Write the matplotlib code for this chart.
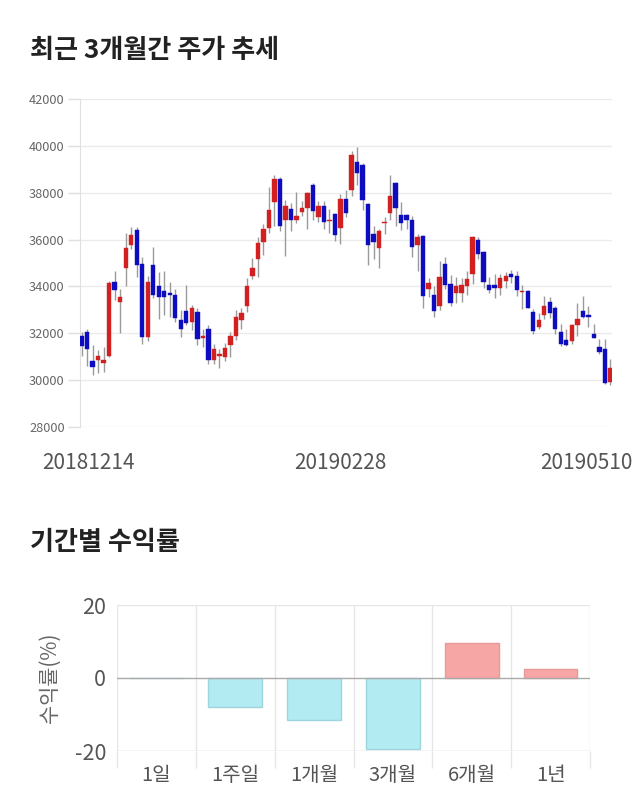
import matplotlib
matplotlib.use("Agg")
import matplotlib.pyplot as plt
import numpy as np

plt.rcParams['font.family'] = ['Noto Sans CJK KR', 'DejaVu Sans']

# ---------------- data ----------------
opens = [31900, 32050, 30800, 30850, 30750, 31050, 34200, 33350, 34800, 35750,
         36400, 34950, 31850, 34900, 34000, 33800, 33700, 33650, 32550, 32950,
         32500, 32900, 31800, 32200, 30850, 31050, 30980, 31500, 31900, 32550,
         33150, 34450, 35150, 35900, 36500, 37600, 38600, 36850, 37300, 36850,
         37180, 37350, 38350, 36950, 37450, 36800, 37100, 36500, 37750, 38100,
         39300, 39200, 37500, 36250, 35650, 36700, 37150, 38400, 37050, 37050,
         36850, 35750, 36150, 33900, 33650, 33150, 34950, 34100, 33700, 33700,
         34000, 34550, 36000, 35450, 34050, 34050, 33950, 34250, 34550, 34450,
         33770, 33800, 32900, 32250, 32800, 33350, 33100, 32050, 31700, 31650,
         32350, 32950, 32800, 31950, 31400, 31350, 29900]
highs = [32050, 32200, 31500, 31300, 31400, 34250, 34650, 33900, 36300, 36550,
         36550, 35250, 34450, 35700, 34600, 34650, 34200, 33900, 33000, 34050,
         33200, 33100, 32200, 32350, 31550, 31350, 31600, 32050, 33000, 33100,
         34350, 35200, 36100, 36650, 38250, 38750, 38650, 37700, 37550, 38050,
         37650, 38050, 38400, 37650, 37650, 37300, 37150, 37950, 38100, 39800,
         39950, 39250, 37550, 36600, 36450, 36950, 38750, 38450, 37600, 37100,
         37000, 36250, 36200, 34350, 34000, 35100, 35250, 34500, 34400, 34350,
         34650, 36150, 36100, 35500, 34400, 34550, 34550, 34600, 34700, 34650,
         34050, 33850, 33050, 32850, 33600, 33550, 33150, 32400, 32200, 32400,
         33300, 33600, 33150, 32400, 31750, 31750, 30900]
lows = [31050, 30600, 30200, 30300, 30350, 31000, 33400, 32000, 34000, 35600,
        34400, 31550, 31650, 33500, 32600, 32800, 32700, 32500, 31850, 32350,
        32150, 31500, 31400, 30700, 30700, 30500, 30800, 31000, 31700, 32200,
        32900, 34300, 34400, 35350, 36300, 36600, 36350, 35300, 36350, 36700,
        37000, 36450, 36850, 36750, 36450, 36300, 35950, 35800, 36950, 37850,
        38350, 37250, 34900, 35150, 34800, 36250, 36850, 36600, 36400, 36450,
        35250, 34650, 33100, 33550, 32700, 33000, 33900, 33150, 33300, 33350,
        33650, 34100, 35150, 33950, 33700, 33500, 33650, 33950, 34150, 33600,
        33050, 33100, 31950, 32200, 32600, 32650, 31950, 31450, 31450, 31550,
        31900, 32650, 32250, 31800, 31100, 29850, 29800]
closes = [31450, 31350, 30550, 31050, 30850, 34150, 33850, 33550, 35650, 36200,
          34900, 31850, 34200, 33650, 33550, 33550, 33650, 32650, 32200, 32450,
          33100, 31750, 31900, 30850, 31350, 31100, 31370, 31880, 32700, 32850,
          34000, 34800, 35850, 36450, 37250, 38600, 36600, 37450, 36850, 37000,
          37350, 38000, 37200, 37450, 36750, 36850, 36200, 37750, 37150, 39600,
          38850, 37700, 35750, 35900, 36350, 36750, 37850, 37350, 36700, 36850,
          35700, 36100, 33600, 34150, 32950, 34400, 34050, 33300, 34000, 34050,
          34300, 36100, 35400, 34200, 33850, 33950, 34350, 34450, 34400, 33850,
          33800, 33100, 32100, 32550, 33150, 32850, 32200, 31550, 31500, 32350,
          32600, 32700, 32700, 31800, 31200, 29880, 30500]

date_ticks = [1.16, 46.9, 91.6]
date_labels = ['20181214', '20190228', '20190510']
price_ticks = [28000, 30000, 32000, 34000, 36000, 38000, 40000, 42000]

periods = ['1일', '1주일', '1개월', '3개월', '6개월', '1년']
returns = [0.0, -8.0, -11.5, -19.4, 9.6, 2.4]

# ---------------- figure ----------------
fig = plt.figure(figsize=(6.4, 8.1), dpi=100)
W, H = 640, 810

def ax_rect(l, t, r, b):
    return [l / W, 1 - b / H, (r - l) / W, (b - t) / H]

fig.text(30 / W, 1 - 50 / H, '최근 3개월간 주가 추세', fontsize=18.8,
         fontweight='bold', color='#222222', va='center', ha='left')
fig.text(30 / W, 1 - 543 / H, '기간별 수익률', fontsize=18.8,
         fontweight='bold', color='#222222', va='center', ha='left')

# ---- candlestick ----
ax = fig.add_axes(ax_rect(80, 99, 612, 427))
x = np.arange(len(opens))
o = np.array(opens); c = np.array(closes)
hi = np.array(highs); lo = np.array(lows)
up = c >= o
colors = np.where(up, '#d21f1f', '#0d0dbf')
ax.vlines(x, lo, hi, color='#9a9a9a', linewidth=1.0, zorder=2)
bottom = np.minimum(o, c)
height = np.maximum(np.abs(c - o), 40)
ax.bar(x, height, bottom=bottom, width=0.8, color=colors, edgecolor=colors,
       linewidth=0.3, zorder=3)
ax.set_xlim(-0.3, 96.3)
ax.set_ylim(28000, 42000)
ax.set_yticks(price_ticks)
ax.set_yticklabels([str(v) for v in price_ticks])
ax.tick_params(axis='y', labelsize=9.2, colors='#e0e0e0', labelcolor='#666666',
               length=9, width=1, pad=2)
ax.set_xticks(date_ticks)
ax.set_xticklabels(date_labels)
ax.tick_params(axis='x', labelsize=15, labelcolor='#555555', length=0, pad=18)
ax.grid(axis='y', color='#ebebeb', linewidth=1)
for s in ['top', 'right', 'bottom']:
    ax.spines[s].set_visible(False)
ax.spines['left'].set_color('#e0e0e0')
ax.set_axisbelow(True)

# ---- returns bar chart ----
bx = fig.add_axes(ax_rect(117, 605, 590, 751))
xp = np.arange(len(periods))
bar_colors = ['#f7a6a6' if v > 0 else '#b2ebf2' for v in returns]
edge_colors = ['#e89a9a' if v > 0 else '#9fd6de' for v in returns]
bx.bar(xp, returns, width=0.68, color=bar_colors, edgecolor=edge_colors,
       linewidth=1, zorder=3)
bx.set_xlim(-0.5, len(periods) - 0.5)
bx.set_ylim(-20, 20)
bx.set_yticks([-20, 0, 20])
bx.set_yticklabels(['-20', '0', '20'])
bx.set_xticks(xp)
bx.set_xticklabels(periods)
bx.set_xticks(np.arange(len(periods) + 1) - 0.5, minor=True)
bx.tick_params(axis='x', which='major', length=0, labelsize=14.5,
               labelcolor='#555555', pad=10)
bx.tick_params(axis='x', which='minor', length=12, color='#e6e6e6', width=1)
bx.tick_params(axis='y', length=0, labelsize=15.5, labelcolor='#555555', pad=8)
bx.grid(axis='x', which='minor', color='#e6e6e6', linewidth=1)
bx.axhline(20, color='#e6e6e6', linewidth=1, zorder=1)
bx.axhline(0, color='#aaaaaa', linewidth=1, zorder=4)
bx.axhline(-20, color='#cccccc', linewidth=1, zorder=1)
for s in ['top', 'right', 'bottom', 'left']:
    bx.spines[s].set_visible(False)
bx.set_ylabel('수익률(%)', fontsize=15, color='#666666', labelpad=10)
bx.set_axisbelow(True)

fig.savefig('out.png', dpi=100)
